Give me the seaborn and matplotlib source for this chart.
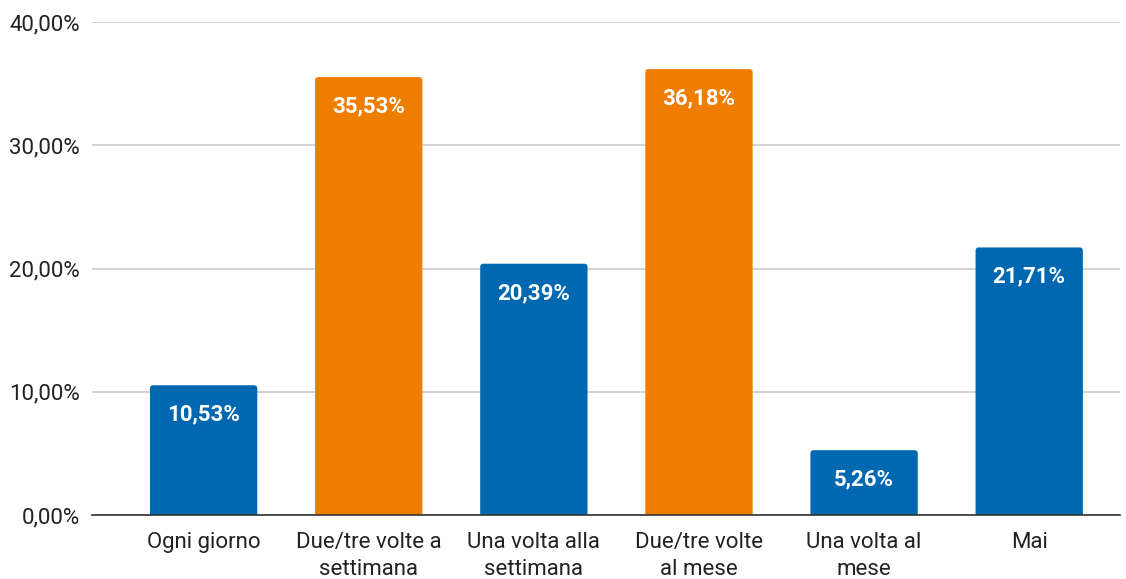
import numpy as np
import pandas as pd
import matplotlib
matplotlib.use('Agg')
import matplotlib.pyplot as plt
import seaborn as sns
from matplotlib.ticker import FuncFormatter
from matplotlib.patches import FancyBboxPatch

# data
categories = ['Ogni giorno', 'Due/tre volte a\nsettimana', 'Una volta alla\nsettimana',
              'Due/tre volte\nal mese', 'Una volta al\nmese', 'Mai']
values = [10.53, 35.53, 20.39, 36.18, 5.26, 21.71]
bar_colors = ['#0067b1', '#ef7d00', '#0067b1', '#ef7d00', '#0067b1', '#0067b1']
yticks = [0, 10, 20, 30, 40]

# setup
sns.set_theme(style='white')
plt.rcParams['font.family'] = ['Roboto', 'DejaVu Sans']
df = pd.DataFrame({'cat': categories, 'val': values})

fig = plt.figure(figsize=(11.26, 5.79), dpi=100)
ax = fig.add_axes([0.0817, 0.1105, 0.913, 0.8515])

sns.barplot(data=df, x='cat', y='val', hue='cat', palette=bar_colors,
            width=0.65, legend=False, ax=ax, saturation=1)

ax.set_ylim(0, 40)
ax.set_xlim(-0.676, 5.55)

# slightly rounded bar tops (bottom pushed below 0 so it stays square)
for p in ax.patches:
    rb = FancyBboxPatch((p.get_x(), -1), p.get_width(), p.get_height() + 1,
                        boxstyle='round,pad=0,rounding_size=0.02',
                        mutation_aspect=13.4, facecolor=p.get_facecolor(),
                        edgecolor='none', zorder=p.get_zorder())
    ax.add_patch(rb)
    p.set_visible(False)

ax.set_yticks(yticks)
ax.yaxis.set_major_formatter(FuncFormatter(lambda v, p: f'{v:.2f}%'.replace('.', ',')))
ax.grid(axis='y', color='#cccccc', linewidth=1.2)
ax.set_axisbelow(True)
for s in ['top', 'right', 'left']:
    ax.spines[s].set_visible(False)
ax.spines['bottom'].set_color('#333333')
ax.spines['bottom'].set_linewidth(1.2)
ax.spines['bottom'].set_zorder(5)
ax.tick_params(axis='both', length=0, labelsize=16, colors='#222222')
ax.tick_params(axis='y', pad=8.5)
ax.tick_params(axis='x', pad=12)
for t in ax.get_xticklabels():
    t.set_linespacing(1.4)
ax.set_xlabel('')
ax.set_ylabel('')

for c in ax.containers:
    ax.bar_label(c, labels=[f'{v:.2f}%'.replace('.', ',') for v in c.datavalues],
                 padding=-29, color='white', fontsize=16, fontweight='bold')

fig.savefig('out.png', dpi=100)
